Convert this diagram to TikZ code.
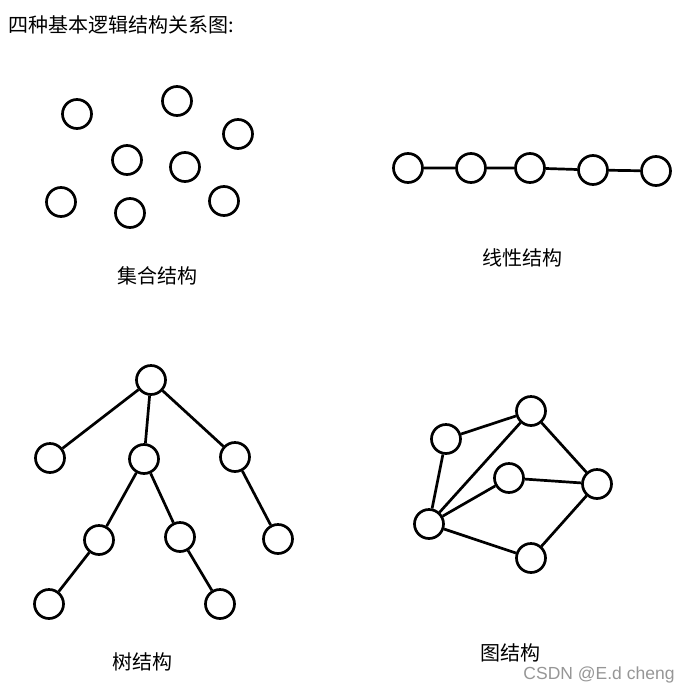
\documentclass[tikz,border=0pt]{standalone}
\usepackage{fontspec}
\setmainfont{Noto Sans CJK SC}
\newfontfamily\markfont{Liberation Sans}
\usepackage{tikz}
\definecolor{markGray}{RGB}{150,150,150}
\usetikzlibrary{calc,shapes,positioning}

\begin{document}
\begin{tikzpicture}[x=1pt,y=-1pt,line width=2.7pt,
    vertex/.style={circle, draw, fill=white, inner sep=0pt, minimum size=29pt},
    caption/.style={font=\fontsize{20}{22}\selectfont, inner sep=0pt},
    ]
    \useasboundingbox (0,0) rectangle (694,694);

    \node[caption, anchor=west] (title) at (7,25) {四种基本逻辑结构关系图:};

    % set structure
    \node[vertex] (set1) at (77,114) {};
    \node[vertex] (set2) at (177,101) {};
    \node[vertex] (set3) at (238,134) {};
    \node[vertex] (set4) at (127,160) {};
    \node[vertex] (set5) at (185,167) {};
    \node[vertex] (set6) at (61,202) {};
    \node[vertex] (set7) at (130,213) {};
    \node[vertex] (set8) at (224,201) {};
    \node[caption] (setLabel) at (157,276) {集合结构};

    % linear structure
    \node[vertex] (line1) at (408,168) {};
    \node[vertex] (line2) at (471,168) {};
    \node[vertex] (line3) at (530,168) {};
    \node[vertex] (line4) at (593,170) {};
    \node[vertex] (line5) at (656,171) {};
    \node[caption] (lineLabel) at (522,258) {线性结构};
    \draw (line1) -- (line2) -- (line3) -- (line4) -- (line5);

    % tree structure
    \node[vertex] (treeRoot) at (151,380) {};
    \node[vertex] (treeL) at (50,458) {};
    \node[vertex] (treeM) at (144,459) {};
    \node[vertex] (treeR) at (235,457) {};
    \node[vertex] (treeML) at (99,540) {};
    \node[vertex] (treeMR) at (180,537) {};
    \node[vertex] (treeRR) at (278,539) {};
    \node[vertex] (treeMLL) at (49,604) {};
    \node[vertex] (treeMRR) at (220,604) {};
    \node[caption] (treeLabel) at (142,662) {树结构};
    \draw (treeRoot) -- (treeL);
    \draw (treeRoot) -- (treeM);
    \draw (treeRoot) -- (treeR);
    \draw (treeM) -- (treeML);
    \draw (treeM) -- (treeMR);
    \draw (treeR) -- (treeRR);
    \draw (treeML) -- (treeMLL);
    \draw (treeMR) -- (treeMRR);

    % graph structure
    \node[vertex] (graphA) at (446,439) {};
    \node[vertex] (graphB) at (531,411) {};
    \node[vertex] (graphC) at (509,478) {};
    \node[vertex] (graphD) at (597,484) {};
    \node[vertex] (graphE) at (429,524) {};
    \node[vertex] (graphF) at (531,558) {};
    \node[caption] (graphLabel) at (510,653) {图结构};
    \draw (graphA) -- (graphB);
    \draw (graphA) -- (graphE);
    \draw (graphE) -- (graphB);
    \draw (graphE) -- (graphC);
    \draw (graphE) -- (graphF);
    \draw (graphC) -- (graphD);
    \draw (graphB) -- (graphD);
    \draw (graphF) -- (graphD);

    \node[inner sep=0pt, text=markGray, font=\markfont\fontsize{17.5}{19}\selectfont] (mark) at (599,675) {CSDN @E.d cheng};
  \end{tikzpicture}
\end{document}
